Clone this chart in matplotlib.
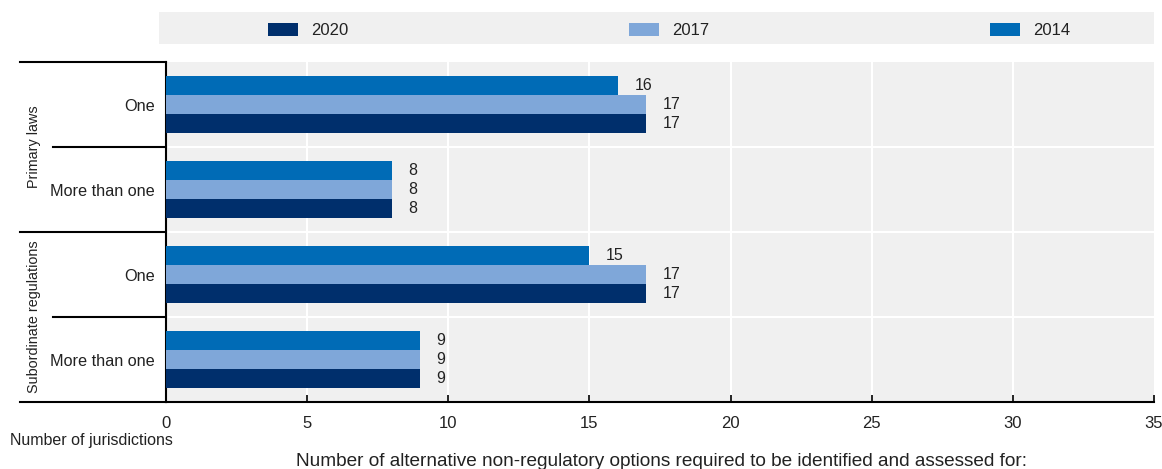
import numpy as np
import matplotlib
matplotlib.use("Agg")
import matplotlib.pyplot as plt
from matplotlib.patches import Rectangle
from matplotlib import font_manager

names = {f.name for f in font_manager.fontManager.ttflist}
fam = 'Liberation Sans Narrow' if 'Liberation Sans Narrow' in names else 'Liberation Sans'
plt.rcParams['font.family'] = [fam, 'DejaVu Sans']

# data
groups = ['Primary laws', 'Subordinate regulations']
categories = ['One', 'More than one', 'One', 'More than one']
years = ['2020', '2017', '2014']
v2020 = [17, 8, 17, 9]
v2017 = [17, 8, 17, 9]
v2014 = [16, 8, 15, 9]
colors = {'2020': '#002f6c', '2017': '#7fa7d9', '2014': '#006bb6'}

W, H = 1162, 469
fig = plt.figure(figsize=(W / 100, H / 100), dpi=100)
ax = fig.add_axes([166 / W, 1 - 402 / H, (1154 - 166) / W, (402 - 62) / H])
ax.set_facecolor('#f0f0f0')

y = np.arange(len(categories))
h = 0.2235
series = {'2020': v2020, '2017': v2017, '2014': v2014}
offsets = {'2014': -h, '2017': 0, '2020': h}
bars = {}
for yr in years:
    bars[yr] = ax.barh(y + offsets[yr], series[yr], height=h, color=colors[yr], zorder=3)
    ax.bar_label(bars[yr], padding=12, fontsize=11.5, color='#222222')

ax.set_xlim(0, 35)
ax.set_ylim(len(categories) - 0.5, -0.5)
ax.set_xticks(range(0, 36, 5))
ax.set_yticks(y)
ax.set_yticklabels(categories, fontsize=11.7)
ax.tick_params(axis='y', length=0, pad=8)
ax.tick_params(axis='x', direction='in', length=5, width=1.2, labelsize=12, pad=10)
for lab in ax.get_xticklabels() + ax.get_yticklabels():
    lab.set_color('#222222')

# grid
for xv in range(5, 35, 5):
    ax.axvline(xv, color='white', lw=1.5, zorder=1)
for yv in [0.5, 1.5, 2.5]:
    ax.axhline(yv, color='white', lw=1.5, zorder=1)

for s in ['top', 'right']:
    ax.spines[s].set_visible(False)
ax.spines['left'].set_linewidth(1.5)
ax.spines['bottom'].set_linewidth(1.5)

# group separator lines on the left
trans = ax.get_yaxis_transform()
x_long = (20 - 166) / (1154 - 166)
x_short = (53 - 166) / (1154 - 166)
for yv in [-0.5, 1.5, 3.5]:
    ax.plot([x_long, 0], [yv, yv], color='black', lw=1.5, transform=trans, clip_on=False)
for yv in [0.5, 2.5]:
    ax.plot([x_short, 0], [yv, yv], color='black', lw=1.5, transform=trans, clip_on=False)

gx = 34 / W
for i, g in enumerate(groups):
    yc = 1 - (147 + 170 * i) / H
    fig.text(gx, yc, g, rotation=90, ha='center', va='center', fontsize=10.4, color='#222222')

# legend band
fig.patches.append(Rectangle((159 / W, 1 - 44 / H), (1154 - 159) / W, 32 / H,
                             transform=fig.transFigure, facecolor='#f0f0f0',
                             edgecolor='none', zorder=0))
leg_x = {'2020': 268, '2017': 629, '2014': 990}
for yr in years:
    fig.patches.append(Rectangle((leg_x[yr] / W, 1 - 36 / H), 30 / W, 13 / H,
                                 transform=fig.transFigure, facecolor=colors[yr],
                                 edgecolor='none', zorder=1))
    fig.text((leg_x[yr] + 43) / W, 1 - 30 / H, yr, ha='left', va='center',
             fontsize=12, color='#222222')

fig.text(10 / W, 1 - 440 / H, 'Number of jurisdictions', ha='left', va='center',
         fontsize=11.5, color='#222222')
fig.text(661 / W, 1 - 461 / H,
         'Number of alternative non-regulatory options required to be identified and assessed for:',
         ha='center', va='center', fontsize=13.7, color='#222222')

fig.savefig('out.png', dpi=100)
